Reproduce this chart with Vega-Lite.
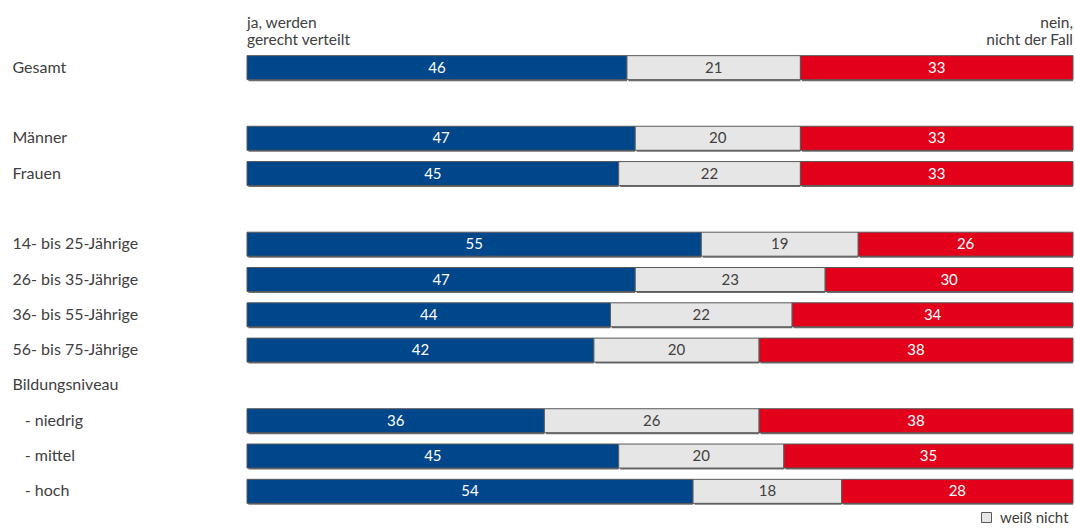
{
  "$schema": "https://vega.github.io/schema/vega-lite/v6.json",
  "width": 826,
  "height": 459,
  "autosize": {"type": "none"},
  "padding": {"left": 247, "top": 50, "right": 2, "bottom": 21},
  "config": {
    "view": {"stroke": null},
    "font": "Lato",
    "text": {"font": "Lato"}
  },
  "data": {
    "values": [
      {"cat": "Gesamt", "resp": "ja", "v": 46, "o": 1},
      {"cat": "Gesamt", "resp": "weiß nicht", "v": 21, "o": 2},
      {"cat": "Gesamt", "resp": "nein", "v": 33, "o": 3},
      {"cat": "Männer", "resp": "ja", "v": 47, "o": 1},
      {"cat": "Männer", "resp": "weiß nicht", "v": 20, "o": 2},
      {"cat": "Männer", "resp": "nein", "v": 33, "o": 3},
      {"cat": "Frauen", "resp": "ja", "v": 45, "o": 1},
      {"cat": "Frauen", "resp": "weiß nicht", "v": 22, "o": 2},
      {"cat": "Frauen", "resp": "nein", "v": 33, "o": 3},
      {"cat": "14- bis 25-Jährige", "resp": "ja", "v": 55, "o": 1},
      {"cat": "14- bis 25-Jährige", "resp": "weiß nicht", "v": 19, "o": 2},
      {"cat": "14- bis 25-Jährige", "resp": "nein", "v": 26, "o": 3},
      {"cat": "26- bis 35-Jährige", "resp": "ja", "v": 47, "o": 1},
      {"cat": "26- bis 35-Jährige", "resp": "weiß nicht", "v": 23, "o": 2},
      {"cat": "26- bis 35-Jährige", "resp": "nein", "v": 30, "o": 3},
      {"cat": "36- bis 55-Jährige", "resp": "ja", "v": 44, "o": 1},
      {"cat": "36- bis 55-Jährige", "resp": "weiß nicht", "v": 22, "o": 2},
      {"cat": "36- bis 55-Jährige", "resp": "nein", "v": 34, "o": 3},
      {"cat": "56- bis 75-Jährige", "resp": "ja", "v": 42, "o": 1},
      {"cat": "56- bis 75-Jährige", "resp": "weiß nicht", "v": 20, "o": 2},
      {"cat": "56- bis 75-Jährige", "resp": "nein", "v": 38, "o": 3},
      {"cat": "- niedrig", "resp": "ja", "v": 36, "o": 1},
      {"cat": "- niedrig", "resp": "weiß nicht", "v": 26, "o": 2},
      {"cat": "- niedrig", "resp": "nein", "v": 38, "o": 3},
      {"cat": "- mittel", "resp": "ja", "v": 45, "o": 1},
      {"cat": "- mittel", "resp": "weiß nicht", "v": 20, "o": 2},
      {"cat": "- mittel", "resp": "nein", "v": 35, "o": 3},
      {"cat": "- hoch", "resp": "ja", "v": 54, "o": 1},
      {"cat": "- hoch", "resp": "weiß nicht", "v": 18, "o": 2},
      {"cat": "- hoch", "resp": "nein", "v": 28, "o": 3}
    ]
  },
  "transform": [
    {"stack": "v", "groupby": ["cat"], "sort": [{"field": "o"}], "as": ["x0", "x1"]},
    {"calculate": "(datum.x0 + datum.x1) / 2", "as": "mid"}
  ],
  "encoding": {
    "y": {
      "field": "cat",
      "type": "nominal",
      "sort": null,
      "scale": {
        "domain": [
          "Gesamt", " ", "Männer", "Frauen", "  ",
          "14- bis 25-Jährige", "26- bis 35-Jährige", "36- bis 55-Jährige", "56- bis 75-Jährige",
          "Bildungsniveau",
          "- niedrig", "- mittel", "- hoch"
        ],
        "paddingInner": 0.32,
        "paddingOuter": 0.16
      },
      "axis": {
        "title": null,
        "domain": false,
        "ticks": false,
        "labelAlign": "left",
        "labelPadding": 235,
        "labelFont": "Lato",
        "labelFontSize": 16,
        "labelColor": "#404040",
        "labelLimit": 0,
        "labelExpr": "indexof(datum.value, '- ') == 0 ? '\u200b\u00a0\u00a0\u00a0' + datum.value : datum.value"
      }
    }
  },
  "layer": [
    {
      "mark": {"type": "bar", "color": "#6e6e6e", "xOffset": 1.5, "yOffset": 1.5},
      "encoding": {
        "x": {"field": "x0", "type": "quantitative", "scale": {"domain": [0, 100], "nice": false}, "axis": null},
        "x2": {"field": "x1"}
      }
    },
    {
      "mark": {"type": "bar", "stroke": "#595959", "strokeWidth": 1},
      "encoding": {
        "x": {"field": "x0", "type": "quantitative", "scale": {"domain": [0, 100], "nice": false}, "axis": null},
        "x2": {"field": "x1"},
        "color": {
          "field": "resp",
          "type": "nominal",
          "scale": {"domain": ["ja", "weiß nicht", "nein"], "range": ["#00468b", "#e6e6e6", "#e2001a"]},
          "legend": {
            "values": ["weiß nicht"],
            "title": null,
            "orient": "none",
            "legendX": 732,
            "legendY": 460,
            "padding": 0,
            "symbolType": "square",
            "symbolSize": 100,
            "symbolStrokeColor": "#595959",
            "symbolStrokeWidth": 1,
            "symbolOpacity": 1,
            "labelFont": "Lato",
            "labelFontSize": 15,
            "labelColor": "#404040",
            "labelOffset": 6
          }
        }
      }
    },
    {
      "mark": {"type": "text", "fontSize": 15, "align": "center", "baseline": "middle"},
      "encoding": {
        "x": {"field": "mid", "type": "quantitative"},
        "text": {"field": "v", "type": "quantitative"},
        "fill": {"condition": {"test": "datum.resp == 'weiß nicht'", "value": "#404040"}, "value": "#ffffff"}
      }
    },
    {
      "transform": [{"filter": "datum.cat == 'Gesamt' && datum.o == 1"}],
      "mark": {"type": "text", "align": "left", "baseline": "alphabetic", "fontSize": 15.5, "lineHeight": 17, "color": "#404040", "dy": -40,
               "text": ["ja, werden", "gerecht verteilt"]},
      "encoding": {
        "x": {"datum": 0, "type": "quantitative"},
        "y": {"datum": "Gesamt", "type": "nominal"}
      }
    },
    {
      "transform": [{"filter": "datum.cat == 'Gesamt' && datum.o == 1"}],
      "mark": {"type": "text", "align": "right", "baseline": "alphabetic", "fontSize": 15.5, "lineHeight": 17, "color": "#404040", "dy": -40,
               "text": ["nein,", "nicht der Fall"]},
      "encoding": {
        "x": {"datum": 100, "type": "quantitative"},
        "y": {"datum": "Gesamt", "type": "nominal"}
      }
    }
  ]
}
